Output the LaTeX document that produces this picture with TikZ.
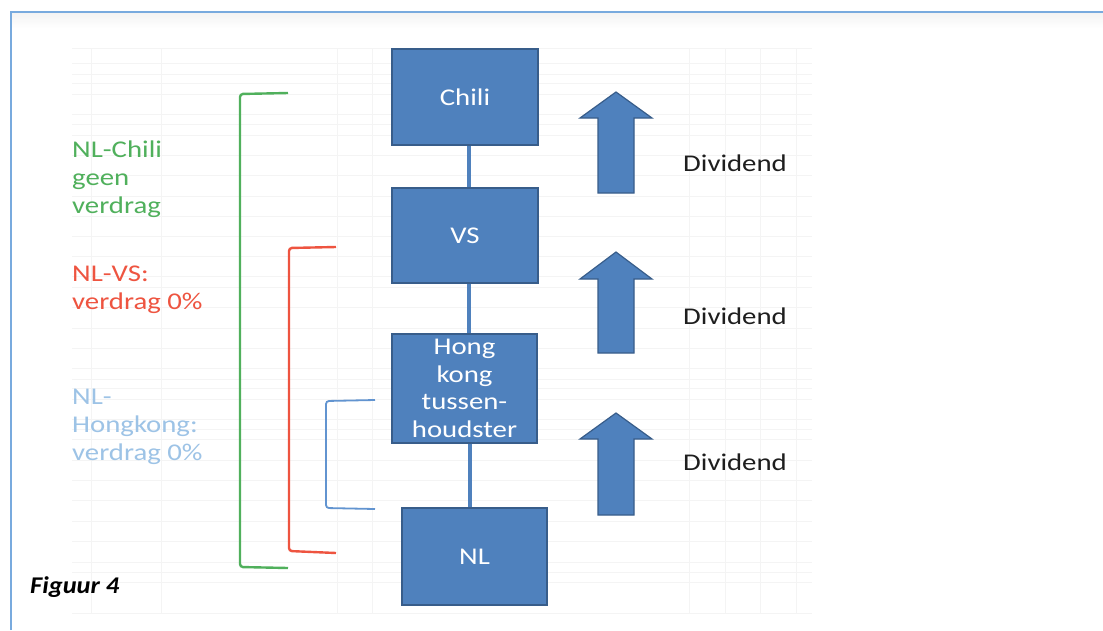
\documentclass[tikz,border=0pt]{standalone}
\usepackage{fontspec}
\setmainfont{Carlito}[FakeStretch=1.2]
\newfontfamily\figfont{Carlito}[FakeStretch=1.1]
\definecolor{boxfill}{RGB}{79,129,189}
\definecolor{boxline}{RGB}{56,93,138}
\definecolor{frameblue}{RGB}{120,170,222}
\definecolor{gridc}{RGB}{244,244,244}
\definecolor{grn}{RGB}{80,176,92}
\definecolor{rd}{RGB}{238,84,64}
\definecolor{bbr}{RGB}{98,148,208}
\definecolor{ltb}{RGB}{157,195,230}
\definecolor{txt}{RGB}{30,30,30}
\newcommand\labellines[1]{\begin{tabular}[t]{@{}l@{}}#1\end{tabular}}
\begin{document}
\begin{tikzpicture}[x=1pt,y=-1pt,
  box/.style={draw=boxline,fill=boxfill,line width=1.4pt,inner sep=0pt,text=white,
    font=\fontsize{24}{27.5}\selectfont,align=center},
  conn/.style={draw=boxfill,line width=4pt},
  divarrow/.style={fill=boxfill,draw=boxline,line width=1.2pt,line join=miter},
  divtext/.style={anchor=base west,inner sep=0pt,text=txt,font=\fontsize{24}{28}\selectfont},
  lab/.style={anchor=base west,inner sep=0pt,font=\fontsize{24}{28}\selectfont},
  brack/.style={line width=2.4pt,rounded corners=3pt}]
\useasboundingbox (0,0) rectangle (1103,630);
\fill[white] (0,0) rectangle (1103,630);
% frame shadow and lines
\shade[top color=gray!10,bottom color=white] (11,12) rectangle (1103,28);
\draw[frameblue,line width=1.6pt] (11,630) -- (11,12) -- (1103,12);
% faint grid
\foreach \y in {48,63,74,83,94,114,124,135,155,175,196,216,236,256,276,287,307,328,348,368,379,388,399,419,429,439,460,480,500,521,541,562,572,582,613}
  \draw[gridc,line width=0.9pt] (72,\y) -- (812,\y);
\foreach \x in {91,161,337,372,689,725,760,796}
  \draw[gridc,line width=0.9pt] (\x,48) -- (\x,613);
% boxes
\node[box,minimum width=146pt,minimum height=96pt] (chili) at (465,97) {Chili};
\node[box,minimum width=146pt,minimum height=95pt] (vs) at (465,235.5) {VS};
\node[box,minimum width=145pt,minimum height=109pt] (hk) at (464.5,388.5) {Hong\\kong\\tussen-\\houdster};
\node[box,minimum width=145pt,minimum height=97pt] (nl) at (474.5,556.5) {NL};
% connectors
\draw[conn] ([xshift=4pt]chili.south) -- ([xshift=4pt]vs.north);
\draw[conn] ([xshift=4pt]vs.south) -- ([xshift=4.5pt]hk.north);
\draw[conn] ([xshift=5.5pt]hk.south) -- ([xshift=-4.5pt]nl.north);
% dividend arrows
\newcommand\divarr[3]{\draw[divarrow] (598,#3) -- (598,#2) -- (580,#2) -- (616,#1) -- (652,#2) -- (634,#2) -- (634,#3) -- cycle;}
\divarr{92}{118}{193}
\divarr{252}{279}{353}
\divarr{413}{439}{515}
\node[divtext] (d1) at (683,171) {Dividend};
\node[divtext] (d2) at (683,324) {Dividend};
\node[divtext] (d3) at (683,470) {Dividend};
% brackets
\coordinate (g1) at (288,93); \coordinate (g2) at (240,94); \coordinate (g3) at (240,567); \coordinate (g4) at (288,568);
\draw[brack,grn] (g1) -- (g2) -- (g3) -- (g4);
\coordinate (r1) at (336,247); \coordinate (r2) at (289,248); \coordinate (r3) at (289,551); \coordinate (r4) at (336,553);
\draw[brack,rd] (r1) -- (r2) -- (r3) -- (r4);
\coordinate (b1) at (375,400); \coordinate (b2) at (326,401); \coordinate (b3) at (326,508); \coordinate (b4) at (375,509);
\draw[brack,bbr,line width=1.8pt] (b1) -- (b2) -- (b3) -- (b4);
% labels
\node[lab,text=grn] (lgreen) at (72,157) {\labellines{NL-Chili\\geen\\verdrag}};
\node[lab,text=rd] (lred) at (72,281) {\labellines{NL-VS:\\verdrag 0\%}};
\node[lab,text=ltb] (lblue) at (72,404) {\labellines{NL-\\Hongkong:\\verdrag 0\%}};
\node[anchor=base west,inner sep=0pt,font=\figfont\fontsize{24}{28}\selectfont\bfseries\itshape] (fig) at (30,593) {Figuur 4};
\end{tikzpicture}
\end{document}
